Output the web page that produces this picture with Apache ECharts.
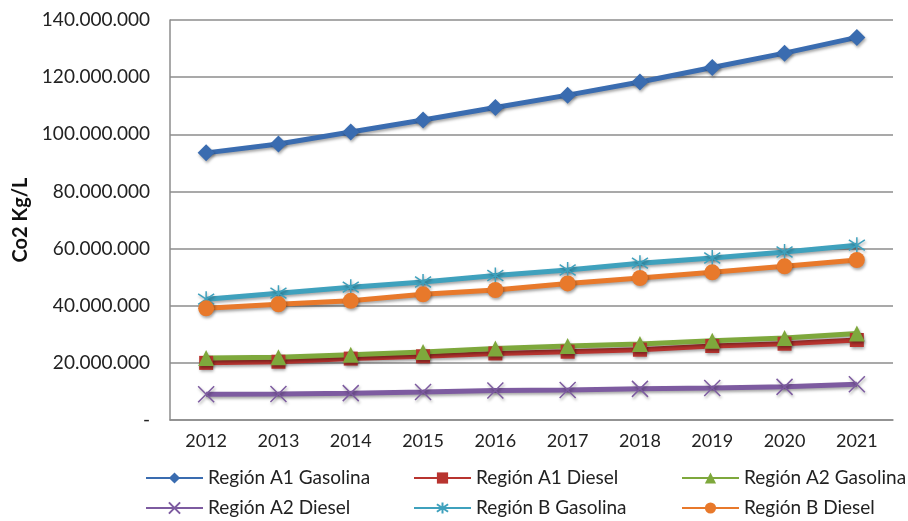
<!DOCTYPE html>
<html><head><meta charset="utf-8">
<script src="https://cdn.jsdelivr.net/npm/echarts@6/dist/echarts.min.js"></script>
<style>html,body{margin:0;padding:0;background:#fff}#c{width:908px;height:521px}</style>
</head><body><div id="c"></div>
<script>
var years = ['2012','2013','2014','2015','2016','2017','2018','2019','2020','2021'];
var a1Gasolina = [93500000, 96600000, 100800000, 105000000, 109400000, 113700000, 118300000, 123400000, 128400000, 133900000];
var a1Diesel   = [20000000, 20400000, 21500000, 22300000, 23300000, 23900000, 24600000, 25900000, 26700000, 28000000];
var a2Gasolina = [21700000, 22000000, 22800000, 23800000, 25000000, 25900000, 26600000, 27700000, 28700000, 30300000];
var a2Diesel   = [9000000, 9100000, 9400000, 9800000, 10300000, 10500000, 10900000, 11200000, 11600000, 12500000];
var bGasolina  = [42300000, 44400000, 46500000, 48300000, 50600000, 52500000, 54900000, 56700000, 58800000, 61200000];
var bDiesel    = [39100000, 40500000, 41700000, 44000000, 45500000, 47800000, 49700000, 51700000, 53800000, 56000000];

var FONT = 'Lato';
function fmt(v){ if(v===0) return '-'; return String(Math.round(v)).replace(/\B(?=(\d{3})+(?!\d))/g,'.'); }
var shadow = {shadowColor:'rgba(0,0,0,0.35)', shadowBlur:3, shadowOffsetX:1, shadowOffsetY:2};
function mk(name, data, color, symbol, size, bw){
  return {
    name:name, type:'line', data:data, symbol:symbol, symbolSize:size,
    showAllSymbol:true,
    lineStyle:Object.assign({color:color, width:5}, shadow),
    itemStyle:Object.assign({color:color, borderColor:color, borderWidth:bw||0}, shadow),
    emphasis:{disabled:true}, animation:false
  };
}
var xPath = 'path://M0,0L10,10M10,0L0,10';
var starPath = 'path://M0,1L10,9M10,1L0,9M5,-1L5,11';
var chart = echarts.init(document.getElementById('c'));
var legText = {fontFamily:FONT, fontSize:19, color:'#222', lineHeight:20};
function leg(left, items){
  return {left:left, top:468, padding:0, orient:'vertical', itemGap:10, itemWidth:57, itemHeight:14, textStyle:legText, data:items};
}
chart.setOption({
  animation:false,
  grid:{left:170, right:15, top:20, bottom:101, containLabel:false},
  xAxis:{type:'category', data:years, boundaryGap:true,
    axisLine:{lineStyle:{color:'#8c8c8c', width:1.5}}, axisTick:{show:false},
    axisLabel:{fontFamily:FONT, fontSize:18, color:'#222', margin:12}},
  yAxis:{type:'value', min:0, max:140000000, interval:20000000,
    name:'Co2 Kg/L', nameLocation:'middle', nameGap:138, nameRotate:90,
    nameTextStyle:{fontFamily:FONT, fontSize:20, fontWeight:'bold', color:'#111'},
    axisLine:{show:true, lineStyle:{color:'#8c8c8c', width:1.5}}, axisTick:{show:false},
    splitLine:{lineStyle:{color:'#8c8c8c', width:1.5}},
    axisLabel:{fontFamily:FONT, fontSize:19, color:'#222', margin:20, formatter:fmt}},
  legend:[
    leg(145, ['Región A1 Gasolina','Región A2 Diesel']),
    leg(413, ['Región A1 Diesel','Región B Gasolina']),
    leg(681, ['Región A2 Gasolina','Región B Diesel'])
  ],
  series:[
    mk('Región A1 Gasolina', a1Gasolina, '#3a6cb0', 'diamond', 17),
    mk('Región A1 Diesel', a1Diesel, '#b8342f', 'rect', 14),
    mk('Región A2 Gasolina', a2Gasolina, '#7ea83c', 'triangle', 16),
    mk('Región A2 Diesel', a2Diesel, '#7d5ba0', xPath, 16, 1.5),
    mk('Región B Gasolina', bGasolina, '#3fa1bd', starPath, 16, 1.5),
    mk('Región B Diesel', bDiesel, '#e8792b', 'circle', 16)
  ]
});
</script></body></html>
